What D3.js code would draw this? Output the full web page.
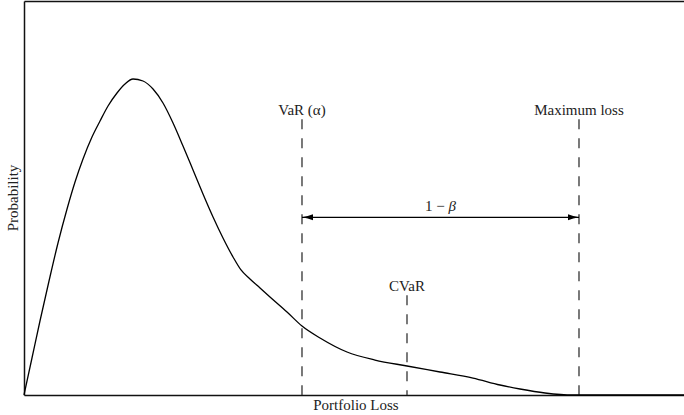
<!DOCTYPE html>
<html>
<head>
<meta charset="utf-8">
<script src="https://cdn.jsdelivr.net/npm/d3@7"></script>
<style>
  html, body { margin: 0; padding: 0; background: #fff; }
  svg { display: block; }
  text { font-family: "Liberation Serif", "Times New Roman", serif; fill: #222; }
</style>
</head>
<body>
<script>
// ---- data ----
const lossValues = [0, 0.121, 0.242, 0.379, 0.515, 0.652, 0.773, 0.894, 1.030, 1.152, 1.273, 1.409, 1.530, 1.652, 1.803, 1.955, 2.106, 2.258, 2.409, 2.561, 2.712, 2.864, 3.015, 3.167, 3.288, 3.424, 3.576, 3.727, 3.985, 4.212, 4.485, 4.894, 5.318, 5.803, 6.303, 6.803, 7.212, 7.515, 7.894, 8.318, 10];
const probValues = [0, 0.0939, 0.1878, 0.2893, 0.3858, 0.4721, 0.5406, 0.599, 0.6548, 0.6954, 0.7335, 0.7665, 0.7893, 0.802, 0.797, 0.7766, 0.7411, 0.6904, 0.632, 0.5711, 0.5102, 0.4518, 0.3985, 0.3503, 0.3173, 0.2944, 0.2716, 0.2487, 0.2107, 0.1751, 0.1447, 0.1091, 0.0888, 0.0736, 0.0584, 0.0431, 0.0254, 0.0152, 0.0051, 0, 0];
const markerNames  = ["VaR (α)", "CVaR", "Maximum loss"];
const markerLoss   = [4.212, 5.803, 8.409];
const markerHeight = [0.70, 0.253, 0.70];
const spanLabel = "1 − β";
const spanLevel = 0.451;
const xTitle = "Portfolio Loss";
const yTitle = "Probability";

// ---- layout ----
const W = 684, H = 415;
const mLeft = 24, mRight = 684, mTop = 1, mBottom = 395;

const svg = d3.select("body").append("svg").attr("width", W).attr("height", H);

const x = d3.scaleLinear().domain([0, 10]).range([mLeft, mRight]);
const y = d3.scaleLinear().domain([0, 1]).range([mBottom, mTop]);

// frame: left, bottom, top
svg.append("g").attr("transform", `translate(0,${mBottom})`)
  .call(d3.axisBottom(x).tickValues([]).tickSizeOuter(0))
  .call(g => g.select(".domain").attr("stroke", "#111").attr("stroke-width", 1.5));
svg.append("g").attr("transform", `translate(0,${mTop})`)
  .call(d3.axisTop(x).tickValues([]).tickSizeOuter(0))
  .call(g => g.select(".domain").attr("stroke", "#111").attr("stroke-width", 1.5));
svg.append("g").attr("transform", `translate(${mLeft},0)`)
  .call(d3.axisLeft(y).tickValues([]).tickSizeOuter(0))
  .call(g => g.select(".domain").attr("stroke", "#111").attr("stroke-width", 1.5));

// marker lines
const pts = lossValues.map((v, i) => [v, probValues[i]]);
markerLoss.forEach((v, i) => {
  svg.append("line")
    .attr("x1", x(v)).attr("x2", x(v))
    .attr("y1", y(markerHeight[i])).attr("y2", y(0))
    .attr("stroke", "#333").attr("stroke-width", 1.3)
    .attr("stroke-dasharray", "10,9");
  svg.append("text")
    .attr("x", x(v)).attr("y", y(markerHeight[i]) - 4)
    .attr("text-anchor", "middle").attr("font-size", 15)
    .text(markerNames[i]);
});

// distribution curve
const line = d3.line().x(d => x(d[0])).y(d => y(d[1])).curve(d3.curveMonotoneX);
svg.append("path").datum(pts)
  .attr("d", line).attr("fill", "none")
  .attr("stroke", "#000").attr("stroke-width", 1.3);

// double arrow
const defs = svg.append("defs");
defs.append("marker").attr("id", "ah").attr("viewBox", "0 -4 12 8")
  .attr("refX", 11).attr("refY", 0).attr("markerWidth", 12).attr("markerHeight", 8)
  .attr("markerUnits", "userSpaceOnUse").attr("orient", "auto-start-reverse")
  .append("path").attr("d", "M0,-3 Q5,-1 11,0 Q5,1 0,3 Z").attr("fill", "#000");
svg.append("line")
  .attr("x1", x(markerLoss[0])).attr("x2", x(markerLoss[2]))
  .attr("y1", y(spanLevel)).attr("y2", y(spanLevel))
  .attr("stroke", "#000").attr("stroke-width", 1.3)
  .attr("marker-start", "url(#ah)").attr("marker-end", "url(#ah)");
svg.append("text")
  .attr("x", (x(markerLoss[0]) + x(markerLoss[2])) / 2).attr("y", y(spanLevel) - 6)
  .attr("text-anchor", "middle").attr("font-size", 15)
  .html('1 − <tspan font-style="italic">β</tspan>');

// axis titles
svg.append("text").attr("x", (x(0) + x(10)) / 2 + 2).attr("y", 410)
  .attr("text-anchor", "middle").attr("font-size", 15).text(xTitle);
svg.append("text").attr("transform", `translate(18,${(mTop + mBottom) / 2}) rotate(-90)`)
  .attr("text-anchor", "middle").attr("font-size", 15).text(yTitle);
</script>
</body>
</html>
